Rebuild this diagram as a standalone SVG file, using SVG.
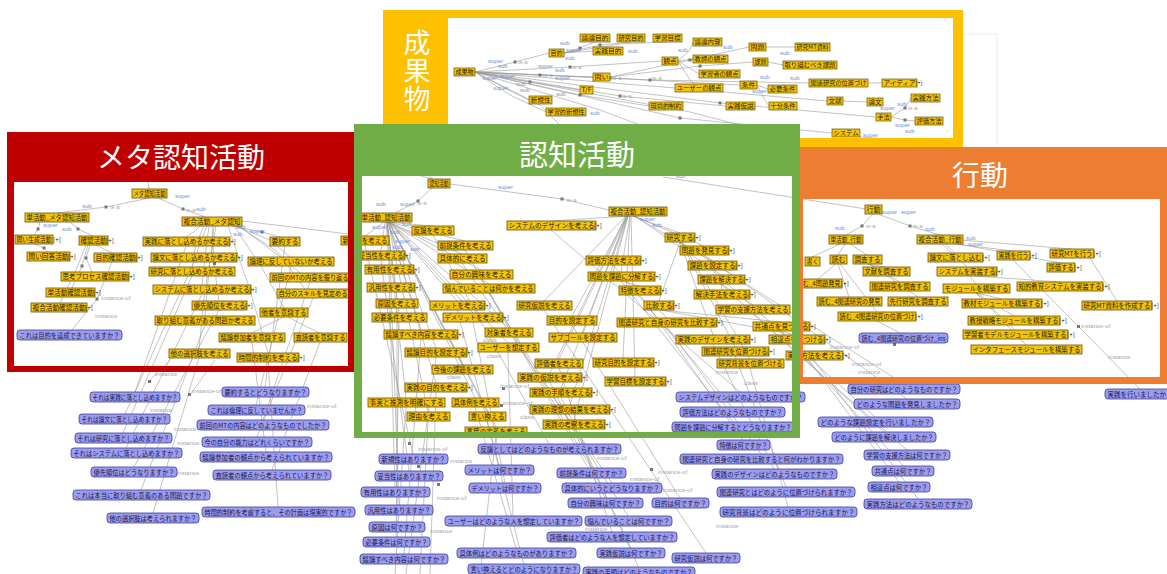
<svg xmlns="http://www.w3.org/2000/svg" width="1167" height="574" viewBox="0 0 1167 574">
<style>
.y rect{fill:#F2C40C;stroke:#6a5200;stroke-width:.8}
.q rect{fill:#9D9DF0;stroke:#3c3c94;stroke-width:.8}
.y text,.q text{font-family:"Noto Sans CJK JP","Noto Sans",sans-serif;font-size:6.3px;text-anchor:middle}
.y text{fill:#2a2000}
.q text{fill:#15154a}
.ty rect{fill:#F2C40C;stroke:#6a5200;stroke-width:.7}
.ty text{font-family:"Noto Sans CJK JP","Noto Sans",sans-serif;font-size:5.8px;fill:#2a2000;text-anchor:middle}
.e{fill:none;stroke:#9a9a9a;stroke-width:.6}
.sq{fill:#777}
.b{font-family:"Liberation Sans",sans-serif;font-size:6px;fill:#6f8fe0}
.g{font-family:"Liberation Sans",sans-serif;font-size:6px;fill:#a4a6b4}
.pm{font-family:"Liberation Sans",sans-serif;font-size:5px;fill:#333}
.tt{font-family:"Noto Sans CJK JP","Noto Sans",sans-serif;fill:#fff;text-anchor:middle}
</style>
<defs>
<clipPath id="cpTop"><rect x="448" y="18" width="505" height="120"/></clipPath>
</defs>
<rect width="1167" height="574" fill="#fff"/>

<!-- ===== world connectors ===== -->
<g id="connectors">
<path class="e" d="M149 198L106 207L57 213M158 198L183 209L205 217M149 189L147 176M40 222L38 229L34 235M70 222L78 229L93 236M34 244L44 248L48 252M96 245L104 249L112 253M90 245L86 258L92 272M88 245L82 266L72 288M86 245L76 270L60 303M112 262L97 299L72 330M200 226L195 231L186 237M204 226L198 240L194 253M207 226L199 246L192 267M209 226L205 256L202 285M212 226L214 264L219 301M214 226L209 270L205 316M216 226L205 290L199 349M232 226L262 232L280 237M236 226L270 240L290 257M238 226L275 250L300 273M239 226L282 258L305 289M234 226L262 268L284 308M284 317L265 326L252 333M288 317L305 326L320 333M228 226L250 290L268 353M242 221L300 228L348 234"/>
<path class="e" d="M186 246L135 392M194 262L125 414M192 276L123 433M202 294L126 448M219 310L134 467M205 325L141 490M199 358L153 513M285 246L265 387M291 266L256 405M310 282L263 420M313 298L257 437M252 342L266 452M320 342L272 470M268 362L278 507M170 360L150 380M215 360L190 395"/>
<path class="e" d="M400 170L450 184L562 199L609 210M433 179L420 168M432 188L418 201L395 213M663 177L866 209"/>
<path class="e" d="M386 222L433 226M384 222L365 236M388 222L465 241M385 222L381 251M388 222L462 254M386 222L389 265M389 222L481 270M387 222L391 283M389 222L489 284M387 222L397 299M389 222L457 301M387 222L399 313M389 222L473 313M388 222L421 330M390 222L509 328M390 222L508 343M388 222L436 348M389 222L462 365M388 222L436 383M387 222L406 398M389 222L475 398M388 222L428 412M389 222L487 412M389 222L496 427"/>
<path class="e" d="M630 216L551 221M632 216L680 233M634 216L704 246M634 216L712 261M628 216L613 256M630 216L621 272M635 216L721 275M626 216L544 301M627 216L572 316M627 216L583 333M627 216L559 359M626 216L550 373M627 216L561 388M628 216L570 405M628 216L574 420M630 216L623 358M631 216L635 377M721 284L722 290M721 284L753 305M680 242L659 301M680 242L713 335M681 242L735 347M682 242L750 359M659 310L667 318M660 310L781 322M661 310L797 335M621 281L640 286"/>
<path class="e" d="M433 235L549 444M365 245L413 454M381 260L409 471M389 274L395 487M391 292L399 505M397 308L397 522M399 322L396 537M421 339L404 554M457 310L499 465M473 322L505 483M465 250L591 468M462 263L612 483M481 279L605 498M489 293L628 516M508 352L513 516M559 368L612 532M475 407L516 548M487 421L524 565M550 382L631 548M544 310L706 553M572 325L680 498M561 397L639 568M640 295L743 440M667 327L761 454M713 344L774 469M735 356L786 487M750 368L788 507M551 230L740 392M613 265L732 407M621 281L733 422M436 357L406 574M436 392L430 574M406 407L395 574M428 421L420 574M496 436L480 574"/>
<path class="e" d="M680 242L904 384M704 255L907 399M712 270L875 417M721 284L884 432M753 314L907 450M781 331L903 466M797 344L899 482M814 360L918 499"/>
<path class="e" d="M873 214L862 226L846 235M878 214L910 226L940 235M840 244L812 257M845 244L838 255M850 244L867 255M836 264L818 279M838 264L849 297M840 264L877 312M867 264L886 267M869 264L900 282M870 264L918 297M945 244L955 253M955 244L1013 251M960 240L1072 249M958 244L1061 263M942 244L967 267M975 276L1060 282M970 276L976 284M976 293L1002 299M976 293L1014 316M976 293L1015 330M976 293L1026 345M1090 258L1117 301M877 321L900 333M1013 260L1140 389"/>
<path class="sq" d="M104.5 205.5h3v3h-3zM181.5 207.5h3v3h-3zM36.5 227.5h3v3h-3zM76.5 227.5h3v3h-3zM42.5 246.5h3v3h-3zM84.5 256.5h3v3h-3zM80.5 264.5h3v3h-3zM95.5 297.5h3v3h-3zM260.5 230.5h3v3h-3zM213 262h3v3h-3zM203.5 288.5h3v3h-3zM248.5 288.5h3v3h-3zM416.5 199.5h3v3h-3zM560.5 197.5h3v3h-3zM860.5 224.5h3v3h-3zM908.5 224.5h3v3h-3zM148 380h3v3h-3zM188 393h3v3h-3zM502 387h3v3h-3zM500 404h3v3h-3zM417 465h3v3h-3zM437 483h3v3h-3zM657 432h3v3h-3zM1077 325h3v3h-3zM893 343h3v3h-3zM408 442h3v3h-3zM650 468h3v3h-3z"/>
<g class="b">
<text x="175" y="198">super</text><text x="82" y="208">sub</text><text x="196" y="211">sub</text><text x="43" y="227">super</text><text x="236" y="229">sub</text><text x="250" y="233">super</text><text x="233" y="236">sub</text><text x="62" y="231">sub</text>
<text x="498" y="189">super</text><text x="400" y="206">super</text><text x="372" y="229">super</text><text x="390" y="234">sub</text><text x="402" y="226">sub</text><text x="392" y="249">sub</text><text x="395" y="243">super</text><text x="410" y="251">sub</text><text x="640" y="221">super</text><text x="652" y="227">sub</text><text x="676" y="178">sub</text><text x="376" y="206">sub</text>
<text x="882" y="214">super</text><text x="901" y="214">super</text><text x="925" y="231">sub</text><text x="835" y="230">sub</text><text x="968" y="246">super</text><text x="966" y="240">sub</text>
</g>
<g class="g">
<text x="110" y="209">is-a</text><text x="186" y="212">is-a</text><text x="101" y="300">instance-of</text><text x="95" y="318">instance</text><text x="417" y="205">is-a</text><text x="567" y="202">is-a</text><text x="866" y="228">is-a</text><text x="913" y="228">is-a</text>
<text x="155" y="376">instance</text><text x="192" y="393">instance-of</text><text x="150" y="412">instance</text><text x="174" y="431">instance</text><text x="177" y="445">instance</text><text x="177" y="475">instance</text><text x="307" y="408">instance-of</text>
<text x="487" y="358">class</text><text x="483" y="342">class</text><text x="500" y="388">instance-of</text><text x="503" y="405">instance-of</text><text x="520" y="419">class</text><text x="447" y="379">class</text><text x="716" y="374">instance</text><text x="744" y="385">class</text>
<text x="418" y="451">instance-of</text><text x="450" y="463">instance</text><text x="437" y="500">instance-of</text><text x="430" y="533">instance</text><text x="597" y="460">instance-of</text><text x="630" y="481">instance-of</text><text x="663" y="492">instance-of</text><text x="658" y="474">instance-of</text><text x="716" y="528">instance</text><text x="585" y="531">instance</text>
<text x="1081" y="328">instance-of</text><text x="1108" y="359">instance</text><text x="830" y="349">instance-of</text><text x="852" y="366">instance-of</text><text x="858" y="374">instance</text>
</g>
</g>

<!-- ===== red panel nodes ===== -->
<g id="r1" class="y"><rect x="132" y="189" width="35" height="9"/><text x="149.5" y="196" textLength="32" lengthAdjust="spacingAndGlyphs">メタ認知活動</text></g>
<g id="r2" class="y"><rect x="25" y="213" width="64" height="9"/><text x="57" y="220" textLength="61" lengthAdjust="spacingAndGlyphs">単活動_メタ認知活動</text></g>
<g id="r3" class="y"><rect x="182" y="217" width="60" height="9"/><text x="212" y="224" textLength="57" lengthAdjust="spacingAndGlyphs">複合活動_メタ認知</text></g>
<g id="r4" class="y"><rect x="15" y="235" width="38" height="9"/><text x="34" y="242" textLength="35" lengthAdjust="spacingAndGlyphs">問い生成活動</text><text class="pm" x="57" y="242">[+]</text></g>
<g id="r5" class="y"><rect x="79" y="236" width="29" height="9"/><text x="93.5" y="243" textLength="26" lengthAdjust="spacingAndGlyphs">確認活動</text><text class="pm" x="110" y="243">[+]</text></g>
<g id="r6" class="y"><rect x="143" y="237" width="87" height="9"/><text x="186.5" y="244" textLength="84" lengthAdjust="spacingAndGlyphs">実践に落とし込めるか考える</text><text class="pm" x="232" y="244">[+]</text></g>
<g id="r7" class="y"><rect x="270" y="237" width="30" height="9"/><text x="285" y="244" textLength="27" lengthAdjust="spacingAndGlyphs">要約する</text></g>
<g id="r8" class="y"><rect x="341" y="236" width="48" height="9"/><text x="365" y="243" textLength="45" lengthAdjust="spacingAndGlyphs">新規性を考える</text></g>
<g id="r9" class="y"><rect x="27" y="252" width="43" height="9"/><text x="48.5" y="259" textLength="40" lengthAdjust="spacingAndGlyphs">問い回答活動</text><text class="pm" x="72" y="259">[+]</text></g>
<g id="r10" class="y"><rect x="94" y="253" width="43" height="9"/><text x="115.5" y="260" textLength="40" lengthAdjust="spacingAndGlyphs">目的確認活動</text><text class="pm" x="139" y="260">[+]</text></g>
<g id="r11" class="y"><rect x="151" y="253" width="86" height="9"/><text x="194" y="260" textLength="83" lengthAdjust="spacingAndGlyphs">論文に落とし込めるか考える</text><text class="pm" x="239" y="260">[+]</text></g>
<g id="r12" class="y"><rect x="248" y="257" width="86" height="9"/><text x="291" y="264" textLength="83" lengthAdjust="spacingAndGlyphs">論理に反していないか考える</text></g>
<g id="r13" class="y"><rect x="149" y="267" width="86" height="9"/><text x="192" y="274" textLength="83" lengthAdjust="spacingAndGlyphs">研究に落とし込めるか考える</text></g>
<g id="r14" class="y"><rect x="61" y="272" width="68" height="9"/><text x="95" y="279" textLength="65" lengthAdjust="spacingAndGlyphs">思考プロセス確認活動</text><text class="pm" x="131" y="279">[+]</text></g>
<g id="r15" class="y"><rect x="270" y="273" width="80" height="9"/><text x="310" y="280" textLength="77" lengthAdjust="spacingAndGlyphs">前回のMTの内容を振り返る</text></g>
<g id="r16" class="y"><rect x="153" y="285" width="98" height="9"/><text x="202" y="292" textLength="95" lengthAdjust="spacingAndGlyphs">システムに落とし込めるか考える</text><text class="pm" x="253" y="292">[+]</text></g>
<g id="r17" class="y"><rect x="277" y="289" width="72" height="9"/><text x="313" y="296" textLength="69" lengthAdjust="spacingAndGlyphs">自分のスキルを見定める</text></g>
<g id="r18" class="y"><rect x="46" y="288" width="49" height="9"/><text x="70.5" y="295" textLength="46" lengthAdjust="spacingAndGlyphs">単活動確認活動</text><text class="pm" x="97" y="295">[+]</text></g>
<g id="r19" class="y"><rect x="31" y="303" width="56" height="9"/><text x="59" y="310" textLength="53" lengthAdjust="spacingAndGlyphs">複合活動確認活動</text><text class="pm" x="89" y="310">[+]</text></g>
<g id="r20" class="y"><rect x="192" y="301" width="55" height="9"/><text x="219.5" y="308" textLength="52" lengthAdjust="spacingAndGlyphs">優先順位を考える</text><text class="pm" x="249" y="308">[+]</text></g>
<g id="r21" class="y"><rect x="260" y="308" width="48" height="9"/><text x="284" y="315" textLength="45" lengthAdjust="spacingAndGlyphs">他者を意識する</text></g>
<g id="r22" class="y"><rect x="155" y="316" width="100" height="9"/><text x="205" y="323" textLength="97" lengthAdjust="spacingAndGlyphs">取り組む意義がある問題か考える</text></g>
<g id="r23" class="q"><rect x="17" y="330" width="105" height="10" rx="3"/><text x="69.5" y="337.5" textLength="100" lengthAdjust="spacingAndGlyphs">これは目的を達成できていますか？</text></g>
<g id="r24" class="y"><rect x="219" y="333" width="66" height="9"/><text x="252" y="340" textLength="63" lengthAdjust="spacingAndGlyphs">議論参加者を意識する</text></g>
<g id="r25" class="y"><rect x="294" y="333" width="53" height="9"/><text x="320.5" y="340" textLength="50" lengthAdjust="spacingAndGlyphs">査読者を意識する</text></g>
<g id="r26" class="y"><rect x="169" y="349" width="61" height="9"/><text x="199.5" y="356" textLength="58" lengthAdjust="spacingAndGlyphs">他の選択肢を考える</text></g>
<g id="r27" class="y"><rect x="237" y="353" width="62" height="9"/><text x="268" y="360" textLength="59" lengthAdjust="spacingAndGlyphs">時間的制約を考える</text><text class="pm" x="301" y="360">[+]</text></g>

<!-- questions below red panel -->
<g id="o1" class="q"><rect x="90" y="392" width="90" height="10" rx="3"/><text x="135" y="399.5" textLength="85" lengthAdjust="spacingAndGlyphs">それは実践に落とし込めますか？</text></g>
<g id="o2" class="q"><rect x="222" y="387" width="87" height="10" rx="3"/><text x="265.5" y="394.5" textLength="82" lengthAdjust="spacingAndGlyphs">要約するとどうなりますか？</text></g>
<g id="o3" class="q"><rect x="208" y="405" width="97" height="10" rx="3"/><text x="256.5" y="412.5" textLength="92" lengthAdjust="spacingAndGlyphs">これは倫理に反していませんか？</text></g>
<g id="o4" class="q"><rect x="79" y="414" width="91" height="10" rx="3"/><text x="124.5" y="421.5" textLength="86" lengthAdjust="spacingAndGlyphs">それは論文に落とし込めますか？</text></g>
<g id="o5" class="q"><rect x="197" y="420" width="132" height="10" rx="3"/><text x="263" y="427.5" textLength="127" lengthAdjust="spacingAndGlyphs">前回のMTの内容はどのようなものでしたか？</text></g>
<g id="o6" class="q"><rect x="75" y="433" width="97" height="10" rx="3"/><text x="123.5" y="440.5" textLength="92" lengthAdjust="spacingAndGlyphs">それは研究に落とし込めますか？</text></g>
<g id="o7" class="q"><rect x="202" y="437" width="110" height="10" rx="3"/><text x="257" y="444.5" textLength="105" lengthAdjust="spacingAndGlyphs">今の自分の能力はどれくらいですか？</text></g>
<g id="o8" class="q"><rect x="71" y="448" width="111" height="10" rx="3"/><text x="126.5" y="455.5" textLength="106" lengthAdjust="spacingAndGlyphs">それはシステムに落とし込めますか？</text></g>
<g id="o9" class="q"><rect x="200" y="452" width="132" height="10" rx="3"/><text x="266" y="459.5" textLength="127" lengthAdjust="spacingAndGlyphs">議論参加者の観点から考えられていますか？</text></g>
<g id="o10" class="q"><rect x="91" y="467" width="86" height="10" rx="3"/><text x="134" y="474.5" textLength="81" lengthAdjust="spacingAndGlyphs">優先順位はどうなりますか？</text></g>
<g id="o11" class="q"><rect x="213" y="470" width="118" height="10" rx="3"/><text x="272" y="477.5" textLength="113" lengthAdjust="spacingAndGlyphs">査読者の観点から考えられていますか？</text></g>
<g id="o12" class="q"><rect x="73" y="490" width="137" height="10" rx="3"/><text x="141.5" y="497.5" textLength="132" lengthAdjust="spacingAndGlyphs">これは本当に取り組む意義のある問題ですか？</text></g>
<g id="o13" class="q"><rect x="202" y="507" width="153" height="10" rx="3"/><text x="278.5" y="514.5" textLength="148" lengthAdjust="spacingAndGlyphs">時間的制約を考慮すると、その計画は現実的ですか？</text></g>
<g id="o14" class="q"><rect x="107" y="513" width="92" height="10" rx="3"/><text x="153" y="520.5" textLength="87" lengthAdjust="spacingAndGlyphs">他の選択肢は考えられますか？</text></g>

<!-- ===== green panel nodes ===== -->
<g id="g1" class="y"><rect x="428" y="179" width="22" height="9"/><text x="439" y="186" textLength="19" lengthAdjust="spacingAndGlyphs">認知活動</text></g>
<g id="g2" class="y"><rect x="360" y="213" width="52" height="9"/><text x="386" y="220" textLength="49" lengthAdjust="spacingAndGlyphs">単活動_認知活動</text></g>
<g id="g3" class="y"><rect x="412" y="226" width="42" height="9"/><text x="433" y="233" textLength="39" lengthAdjust="spacingAndGlyphs">反論を考える</text></g>
<g id="g5" class="y"><rect x="438" y="241" width="55" height="9"/><text x="465.5" y="248" textLength="52" lengthAdjust="spacingAndGlyphs">前提条件を考える</text></g>
<g id="g6" class="y"><rect x="357" y="251" width="48" height="9"/><text x="381" y="258" textLength="45" lengthAdjust="spacingAndGlyphs">妥当性を考える</text><text class="pm" x="407" y="258">[+]</text></g>
<g id="g7" class="y"><rect x="438" y="254" width="49" height="9"/><text x="462.5" y="261" textLength="46" lengthAdjust="spacingAndGlyphs">具体的に考える</text></g>
<g id="g8" class="y"><rect x="365" y="265" width="49" height="9"/><text x="389.5" y="272" textLength="46" lengthAdjust="spacingAndGlyphs">有用性を考える</text><text class="pm" x="416" y="272">[+]</text></g>
<g id="g9" class="y"><rect x="450" y="270" width="63" height="9"/><text x="481.5" y="277" textLength="60" lengthAdjust="spacingAndGlyphs">自分の興味を考える</text></g>
<g id="g10" class="y"><rect x="507" y="221" width="89" height="9"/><text x="551.5" y="228" textLength="86" lengthAdjust="spacingAndGlyphs">システムのデザインを考える</text><text class="pm" x="598" y="228">[+]</text></g>
<g id="g11" class="y"><rect x="609" y="207" width="58" height="9"/><text x="638" y="214" textLength="55" lengthAdjust="spacingAndGlyphs">複合活動_認知活動</text></g>
<g id="g12" class="y"><rect x="665" y="233" width="30" height="9"/><text x="680" y="240" textLength="27" lengthAdjust="spacingAndGlyphs">研究する</text><text class="pm" x="697" y="240">[+]</text></g>
<g id="g13" class="y"><rect x="680" y="246" width="49" height="9"/><text x="704.5" y="253" textLength="46" lengthAdjust="spacingAndGlyphs">問題を発見する</text><text class="pm" x="731" y="253">[+]</text></g>
<g id="g14" class="y"><rect x="688" y="261" width="49" height="9"/><text x="712.5" y="268" textLength="46" lengthAdjust="spacingAndGlyphs">課題を設定する</text><text class="pm" x="739" y="268">[+]</text></g>
<g id="g15" class="y"><rect x="586" y="256" width="55" height="9"/><text x="613.5" y="263" textLength="52" lengthAdjust="spacingAndGlyphs">評価方法を考える</text><text class="pm" x="643" y="263">[+]</text></g>
<g id="g16" class="y"><rect x="588" y="272" width="67" height="9"/><text x="621.5" y="279" textLength="64" lengthAdjust="spacingAndGlyphs">問題を課題に分解する</text><text class="pm" x="657" y="279">[+]</text></g>
<g id="g17" class="y"><rect x="698" y="275" width="47" height="9"/><text x="721.5" y="282" textLength="44" lengthAdjust="spacingAndGlyphs">課題を解決する</text><text class="pm" x="747" y="282">[+]</text></g>
<g id="g18" class="y"><rect x="367" y="283" width="48" height="9"/><text x="391" y="290" textLength="45" lengthAdjust="spacingAndGlyphs">汎用性を考える</text><text class="pm" x="417" y="290">[+]</text></g>
<g id="g19" class="y"><rect x="443" y="284" width="92" height="9"/><text x="489" y="291" textLength="89" lengthAdjust="spacingAndGlyphs">悩んでいることは何かを考える</text></g>
<g id="g20" class="y"><rect x="376" y="299" width="42" height="9"/><text x="397" y="306" textLength="39" lengthAdjust="spacingAndGlyphs">原因を考える</text></g>
<g id="g21" class="y"><rect x="430" y="301" width="55" height="9"/><text x="457.5" y="308" textLength="52" lengthAdjust="spacingAndGlyphs">メリットを考える</text><text class="pm" x="487" y="308">[+]</text></g>
<g id="g22" class="y"><rect x="517" y="301" width="55" height="9"/><text x="544.5" y="308" textLength="52" lengthAdjust="spacingAndGlyphs">研究仮説を考える</text></g>
<g id="g23" class="y"><rect x="619" y="286" width="42" height="9"/><text x="640" y="293" textLength="39" lengthAdjust="spacingAndGlyphs">特徴を考える</text><text class="pm" x="663" y="293">[+]</text></g>
<g id="g24" class="y"><rect x="694" y="290" width="56" height="9"/><text x="722" y="297" textLength="53" lengthAdjust="spacingAndGlyphs">解決手法を考える</text><text class="pm" x="752" y="297">[+]</text></g>
<g id="g25" class="y"><rect x="644" y="301" width="30" height="9"/><text x="659" y="308" textLength="27" lengthAdjust="spacingAndGlyphs">比較する</text><text class="pm" x="676" y="308">[+]</text></g>
<g id="g26" class="y"><rect x="716" y="305" width="74" height="9"/><text x="753" y="312" textLength="71" lengthAdjust="spacingAndGlyphs">学習の支援方法を考える</text></g>
<g id="g27" class="y"><rect x="372" y="313" width="55" height="9"/><text x="399.5" y="320" textLength="52" lengthAdjust="spacingAndGlyphs">必要条件を考える</text></g>
<g id="g28" class="y"><rect x="443" y="313" width="60" height="9"/><text x="473" y="320" textLength="57" lengthAdjust="spacingAndGlyphs">デメリットを考える</text><text class="pm" x="505" y="320">[+]</text></g>
<g id="g29" class="y"><rect x="547" y="316" width="50" height="9"/><text x="572" y="323" textLength="47" lengthAdjust="spacingAndGlyphs">目的を設定する</text></g>
<g id="g30" class="y"><rect x="617" y="318" width="100" height="9"/><text x="667" y="325" textLength="97" lengthAdjust="spacingAndGlyphs">関連研究と自身の研究を比較する</text><text class="pm" x="719" y="325">[+]</text></g>
<g id="g31" class="y"><rect x="753" y="322" width="57" height="9"/><text x="781.5" y="329" textLength="54" lengthAdjust="spacingAndGlyphs">共通点を見つける</text><text class="pm" x="812" y="329">[+]</text></g>
<g id="g32" class="y"><rect x="384" y="330" width="74" height="9"/><text x="421" y="337" textLength="71" lengthAdjust="spacingAndGlyphs">議論すべき内容を考える</text><text class="pm" x="460" y="337">[+]</text></g>
<g id="g33" class="y"><rect x="485" y="328" width="48" height="9"/><text x="509" y="335" textLength="45" lengthAdjust="spacingAndGlyphs">対象者を考える</text></g>
<g id="g34" class="y"><rect x="549" y="333" width="68" height="9"/><text x="583" y="340" textLength="65" lengthAdjust="spacingAndGlyphs">サブゴールを設定する</text></g>
<g id="g35" class="y"><rect x="676" y="335" width="74" height="9"/><text x="713" y="342" textLength="71" lengthAdjust="spacingAndGlyphs">実践のデザインを考える</text><text class="pm" x="752" y="342">[+]</text></g>
<g id="g36" class="y"><rect x="769" y="335" width="56" height="9"/><text x="797" y="342" textLength="53" lengthAdjust="spacingAndGlyphs">相違点を見つける</text><text class="pm" x="827" y="342">[+]</text></g>
<g id="g37" class="y"><rect x="478" y="343" width="61" height="9"/><text x="508.5" y="350" textLength="58" lengthAdjust="spacingAndGlyphs">ユーザーを想定する</text></g>
<g id="g38" class="y"><rect x="702" y="347" width="67" height="9"/><text x="735.5" y="354" textLength="64" lengthAdjust="spacingAndGlyphs">関連研究を位置づける</text><text class="pm" x="771" y="354">[+]</text></g>
<g id="g39" class="y"><rect x="405" y="348" width="62" height="9"/><text x="436" y="355" textLength="59" lengthAdjust="spacingAndGlyphs">議論目的を設定する</text><text class="pm" x="469" y="355">[+]</text></g>
<g id="g40" class="y"><rect x="593" y="358" width="61" height="9"/><text x="623.5" y="365" textLength="58" lengthAdjust="spacingAndGlyphs">研究目的を設定する</text><text class="pm" x="656" y="365">[+]</text></g>
<g id="g41" class="y"><rect x="717" y="359" width="67" height="9"/><text x="750.5" y="366" textLength="64" lengthAdjust="spacingAndGlyphs">研究背景を位置づける</text></g>
<g id="g42" class="y"><rect x="535" y="359" width="48" height="9"/><text x="559" y="366" textLength="45" lengthAdjust="spacingAndGlyphs">評価者を考える</text></g>
<g id="g43" class="y"><rect x="432" y="365" width="61" height="9"/><text x="462.5" y="372" textLength="58" lengthAdjust="spacingAndGlyphs">今後の課題を考える</text></g>
<g id="g44" class="y"><rect x="518" y="373" width="64" height="9"/><text x="550" y="380" textLength="61" lengthAdjust="spacingAndGlyphs">実践の仮説を考える</text><text class="pm" x="584" y="380">[+]</text></g>
<g id="g45" class="y"><rect x="605" y="377" width="61" height="9"/><text x="635.5" y="384" textLength="58" lengthAdjust="spacingAndGlyphs">学習目標を設定する</text><text class="pm" x="668" y="384">[+]</text></g>
<g id="g46" class="y"><rect x="405" y="383" width="62" height="9"/><text x="436" y="390" textLength="59" lengthAdjust="spacingAndGlyphs">実践の目的を考える</text><text class="pm" x="469" y="390">[+]</text></g>
<g id="g47" class="y"><rect x="530" y="388" width="62" height="9"/><text x="561" y="395" textLength="59" lengthAdjust="spacingAndGlyphs">実践の手順を考える</text><text class="pm" x="594" y="395">[+]</text></g>
<g id="g48" class="q"><rect x="676" y="392" width="129" height="10" rx="3"/><text x="740.5" y="399.5" textLength="124" lengthAdjust="spacingAndGlyphs">システムデザインはどのようなものですか？</text></g>
<g id="g49" class="y"><rect x="368" y="398" width="77" height="9"/><text x="406.5" y="405" textLength="74" lengthAdjust="spacingAndGlyphs">事実と推測を明確にする</text></g>
<g id="g50" class="y"><rect x="452" y="398" width="47" height="9"/><text x="475.5" y="405" textLength="44" lengthAdjust="spacingAndGlyphs">具体例を考える</text></g>
<g id="g51" class="y"><rect x="530" y="405" width="80" height="9"/><text x="570" y="412" textLength="77" lengthAdjust="spacingAndGlyphs">実践の理想の結果を考える</text><text class="pm" x="612" y="412">[+]</text></g>
<g id="g52" class="q"><rect x="680" y="407" width="105" height="10" rx="3"/><text x="732.5" y="414.5" textLength="100" lengthAdjust="spacingAndGlyphs">評価方法はどのようなものですか？</text></g>
<g id="g53" class="y"><rect x="407" y="412" width="43" height="9"/><text x="428.5" y="419" textLength="40" lengthAdjust="spacingAndGlyphs">理由を考える</text></g>
<g id="g54" class="y"><rect x="469" y="412" width="37" height="9"/><text x="487.5" y="419" textLength="34" lengthAdjust="spacingAndGlyphs">言い換える</text></g>
<g id="g55" class="y"><rect x="543" y="420" width="62" height="9"/><text x="574" y="427" textLength="59" lengthAdjust="spacingAndGlyphs">実践の考察を考える</text><text class="pm" x="607" y="427">[+]</text></g>
<g id="g56" class="q"><rect x="672" y="422" width="122" height="10" rx="3"/><text x="733" y="429.5" textLength="117" lengthAdjust="spacingAndGlyphs">問題を課題に分解するとどうなりますか？</text></g>
<g id="g57" class="y"><rect x="465" y="427" width="62" height="9"/><text x="496" y="434" textLength="59" lengthAdjust="spacingAndGlyphs">言葉の定義を考える</text></g>
<g id="g58" class="y"><rect x="786" y="351" width="57" height="9"/><text x="814.5" y="358" textLength="54" lengthAdjust="spacingAndGlyphs">実践方法を考える</text><text class="pm" x="846" y="358">[+]</text></g>

<!-- questions below green panel -->
<g id="p1" class="q"><rect x="478" y="444" width="143" height="10" rx="3"/><text x="549.5" y="451.5" textLength="138" lengthAdjust="spacingAndGlyphs">反論としてはどのようなものが考えられますか？</text></g>
<g id="p2" class="q"><rect x="717" y="440" width="53" height="10" rx="3"/><text x="743.5" y="447.5" textLength="48" lengthAdjust="spacingAndGlyphs">特徴は何ですか？</text></g>
<g id="p3" class="q"><rect x="680" y="454" width="163" height="10" rx="3"/><text x="761.5" y="461.5" textLength="158" lengthAdjust="spacingAndGlyphs">関連研究と自身の研究を比較すると何がわかりますか？</text></g>
<g id="p4" class="q"><rect x="379" y="454" width="69" height="10" rx="3"/><text x="413.5" y="461.5" textLength="64" lengthAdjust="spacingAndGlyphs">新規性はありますか？</text></g>
<g id="p5" class="q"><rect x="465" y="465" width="69" height="10" rx="3"/><text x="499.5" y="472.5" textLength="64" lengthAdjust="spacingAndGlyphs">メリットは何ですか？</text></g>
<g id="p6" class="q"><rect x="557" y="468" width="69" height="10" rx="3"/><text x="591.5" y="475.5" textLength="64" lengthAdjust="spacingAndGlyphs">前提条件は何ですか？</text></g>
<g id="p7" class="q"><rect x="712" y="469" width="125" height="10" rx="3"/><text x="774.5" y="476.5" textLength="120" lengthAdjust="spacingAndGlyphs">実践のデザインはどのようなものですか？</text></g>
<g id="p8" class="q"><rect x="375" y="471" width="68" height="10" rx="3"/><text x="409" y="478.5" textLength="63" lengthAdjust="spacingAndGlyphs">妥当性はありますか？</text></g>
<g id="p9" class="q"><rect x="469" y="483" width="72" height="10" rx="3"/><text x="505" y="490.5" textLength="67" lengthAdjust="spacingAndGlyphs">デメリットは何ですか？</text></g>
<g id="p10" class="q"><rect x="562" y="483" width="100" height="10" rx="3"/><text x="612" y="490.5" textLength="95" lengthAdjust="spacingAndGlyphs">具体的にいうとどうなりますか？</text></g>
<g id="p11" class="q"><rect x="361" y="487" width="69" height="10" rx="3"/><text x="395.5" y="494.5" textLength="64" lengthAdjust="spacingAndGlyphs">有用性はありますか？</text></g>
<g id="p12" class="q"><rect x="717" y="487" width="138" height="10" rx="3"/><text x="786" y="494.5" textLength="133" lengthAdjust="spacingAndGlyphs">関連研究とはどのように位置づけられますか？</text></g>
<g id="p13" class="q"><rect x="568" y="498" width="75" height="10" rx="3"/><text x="605.5" y="505.5" textLength="70" lengthAdjust="spacingAndGlyphs">自分の興味は何ですか？</text></g>
<g id="p14" class="q"><rect x="652" y="498" width="57" height="10" rx="3"/><text x="680.5" y="505.5" textLength="52" lengthAdjust="spacingAndGlyphs">目的は何ですか？</text></g>
<g id="p15" class="q"><rect x="365" y="505" width="68" height="10" rx="3"/><text x="399" y="512.5" textLength="63" lengthAdjust="spacingAndGlyphs">汎用性はありますか？</text></g>
<g id="p16" class="q"><rect x="720" y="507" width="137" height="10" rx="3"/><text x="788.5" y="514.5" textLength="132" lengthAdjust="spacingAndGlyphs">研究背景はどのように位置づけられますか？</text></g>
<g id="p17" class="q"><rect x="445" y="516" width="137" height="10" rx="3"/><text x="513.5" y="523.5" textLength="132" lengthAdjust="spacingAndGlyphs">ユーザーはどのような人を想定していますか？</text></g>
<g id="p18" class="q"><rect x="585" y="516" width="87" height="10" rx="3"/><text x="628.5" y="523.5" textLength="82" lengthAdjust="spacingAndGlyphs">悩んでいることは何ですか？</text></g>
<g id="p19" class="q"><rect x="369" y="522" width="56" height="10" rx="3"/><text x="397" y="529.5" textLength="51" lengthAdjust="spacingAndGlyphs">原因は何ですか？</text></g>
<g id="p20" class="q"><rect x="547" y="532" width="130" height="10" rx="3"/><text x="612" y="539.5" textLength="125" lengthAdjust="spacingAndGlyphs">評価者はどのような人を想定していますか？</text></g>
<g id="p21" class="q"><rect x="363" y="537" width="67" height="10" rx="3"/><text x="396.5" y="544.5" textLength="62" lengthAdjust="spacingAndGlyphs">必要条件は何ですか？</text></g>
<g id="p22" class="q"><rect x="457" y="548" width="119" height="10" rx="3"/><text x="516.5" y="555.5" textLength="114" lengthAdjust="spacingAndGlyphs">具体例はどのようなものがありますか？</text></g>
<g id="p23" class="q"><rect x="597" y="548" width="68" height="10" rx="3"/><text x="631" y="555.5" textLength="63" lengthAdjust="spacingAndGlyphs">実践仮説は何ですか？</text></g>
<g id="p24" class="q"><rect x="672" y="553" width="68" height="10" rx="3"/><text x="706" y="560.5" textLength="63" lengthAdjust="spacingAndGlyphs">研究仮説は何ですか？</text></g>
<g id="p25" class="q"><rect x="360" y="554" width="88" height="10" rx="3"/><text x="404" y="561.5" textLength="83" lengthAdjust="spacingAndGlyphs">議論すべき内容は何ですか？</text></g>
<g id="p26" class="q"><rect x="468" y="564" width="112" height="10" rx="3"/><text x="524" y="571.5" textLength="107" lengthAdjust="spacingAndGlyphs">言い換えるとどのようになりますか？</text></g>
<g id="p27" class="q"><rect x="583" y="567" width="112" height="10" rx="3"/><text x="639" y="574.5" textLength="107" lengthAdjust="spacingAndGlyphs">実践の手順はどのようなものですか？</text></g>

<!-- ===== orange panel nodes ===== -->
<g id="a1" class="y"><rect x="865" y="205" width="17" height="9"/><text x="873.5" y="212" textLength="14" lengthAdjust="spacingAndGlyphs">行動</text></g>
<g id="a2" class="y"><rect x="829" y="235" width="34" height="9"/><text x="846" y="242" textLength="31" lengthAdjust="spacingAndGlyphs">単活動_行動</text></g>
<g id="a3" class="y"><rect x="917" y="235" width="46" height="9"/><text x="940" y="242" textLength="43" lengthAdjust="spacingAndGlyphs">複合活動_行動</text></g>
<g id="a4" class="y"><rect x="805" y="257" width="15" height="9"/><text x="812.5" y="264" textLength="12" lengthAdjust="spacingAndGlyphs">書く</text></g>
<g id="a5" class="y"><rect x="830" y="255" width="17" height="9"/><text x="838.5" y="262" textLength="14" lengthAdjust="spacingAndGlyphs">読む</text></g>
<g id="a6" class="y"><rect x="853" y="255" width="29" height="9"/><text x="867.5" y="262" textLength="26" lengthAdjust="spacingAndGlyphs">調査する</text></g>
<g id="a7" class="y"><rect x="928" y="253" width="55" height="9"/><text x="955.5" y="260" textLength="52" lengthAdjust="spacingAndGlyphs">論文に落とし込む</text><text class="pm" x="986" y="260">[+]</text></g>
<g id="a8" class="y"><rect x="997" y="251" width="33" height="9"/><text x="1013.5" y="258" textLength="30" lengthAdjust="spacingAndGlyphs">実践を行う</text><text class="pm" x="1033" y="258">[+]</text></g>
<g id="a9" class="y"><rect x="1050" y="249" width="44" height="9"/><text x="1072" y="256" textLength="41" lengthAdjust="spacingAndGlyphs">研究MTを行う</text><text class="pm" x="1097" y="256">[+]</text></g>
<g id="a10" class="y"><rect x="1047" y="263" width="28" height="9"/><text x="1061" y="270" textLength="25" lengthAdjust="spacingAndGlyphs">評価する</text><text class="pm" x="1078" y="270">[+]</text></g>
<g id="a11" class="y"><rect x="863" y="267" width="47" height="9"/><text x="886.5" y="274" textLength="44" lengthAdjust="spacingAndGlyphs">文献を調査する</text></g>
<g id="a12" class="y"><rect x="937" y="267" width="60" height="9"/><text x="967" y="274" textLength="57" lengthAdjust="spacingAndGlyphs">システムを実装する</text><text class="pm" x="999" y="274">[+]</text></g>
<g id="a13" class="y"><rect x="795" y="279" width="47" height="9"/><text x="818.5" y="286" textLength="44" lengthAdjust="spacingAndGlyphs">読む_4問題発見</text><text class="pm" x="845" y="286">[+]</text></g>
<g id="a14" class="y"><rect x="870" y="282" width="60" height="9"/><text x="900" y="289" textLength="57" lengthAdjust="spacingAndGlyphs">関連研究を調査する</text></g>
<g id="a15" class="y"><rect x="1017" y="282" width="86" height="9"/><text x="1060" y="289" textLength="83" lengthAdjust="spacingAndGlyphs">知的教育システムを実装する</text><text class="pm" x="1106" y="289">[+]</text></g>
<g id="a16" class="y"><rect x="943" y="284" width="67" height="9"/><text x="976.5" y="291" textLength="64" lengthAdjust="spacingAndGlyphs">モジュールを構築する</text></g>
<g id="a17" class="y"><rect x="817" y="297" width="65" height="9"/><text x="849.5" y="304" textLength="62" lengthAdjust="spacingAndGlyphs">読む_4関連研究の発見</text></g>
<g id="a18" class="y"><rect x="888" y="297" width="60" height="9"/><text x="918" y="304" textLength="57" lengthAdjust="spacingAndGlyphs">先行研究を調査する</text></g>
<g id="a19" class="y"><rect x="962" y="299" width="80" height="9"/><text x="1002" y="306" textLength="77" lengthAdjust="spacingAndGlyphs">教材モジュールを構築する</text><text class="pm" x="1045" y="306">[+]</text></g>
<g id="a20" class="y"><rect x="1082" y="301" width="70" height="9"/><text x="1117" y="308" textLength="67" lengthAdjust="spacingAndGlyphs">研究MT資料を作成する</text><text class="pm" x="1155" y="308">[+]</text></g>
<g id="a21" class="y"><rect x="838" y="312" width="78" height="9"/><text x="877" y="319" textLength="75" lengthAdjust="spacingAndGlyphs">読む_4関連研究の位置づけ</text><text class="pm" x="919" y="319">[+]</text></g>
<g id="a22" class="y"><rect x="968" y="316" width="92" height="9"/><text x="1014" y="323" textLength="89" lengthAdjust="spacingAndGlyphs">教授戦略モジュールを構築する</text><text class="pm" x="1063" y="323">[+]</text></g>
<g id="a23" class="q"><rect x="859" y="333" width="89" height="10" rx="3"/><text x="903.5" y="340.5" textLength="84" lengthAdjust="spacingAndGlyphs">読む_4関連研究の位置づけ_ins</text></g>
<g id="a24" class="y"><rect x="963" y="330" width="105" height="9"/><text x="1015.5" y="337" textLength="102" lengthAdjust="spacingAndGlyphs">学習者モデルモジュールを構築する</text><text class="pm" x="1071" y="337">[+]</text></g>
<g id="a25" class="y"><rect x="971" y="345" width="111" height="9"/><text x="1026.5" y="352" textLength="108" lengthAdjust="spacingAndGlyphs">インタフェースモジュールを構築する</text></g>

<!-- questions below orange panel -->
<g id="b1" class="q"><rect x="848" y="384" width="112" height="10" rx="3"/><text x="904" y="391.5" textLength="107" lengthAdjust="spacingAndGlyphs">自分の研究はどのようなものですか？</text></g>
<g id="b2" class="q"><rect x="854" y="399" width="106" height="10" rx="3"/><text x="907" y="406.5" textLength="101" lengthAdjust="spacingAndGlyphs">どのような問題を発見しましたか？</text></g>
<g id="b3" class="q"><rect x="1105" y="389" width="70" height="10" rx="3"/><text x="1140" y="396.5" textLength="65" lengthAdjust="spacingAndGlyphs">実践を行いましたか？</text></g>
<g id="b4" class="q"><rect x="818" y="417" width="115" height="10" rx="3"/><text x="875.5" y="424.5" textLength="110" lengthAdjust="spacingAndGlyphs">どのような課題設定を行いましたか？</text></g>
<g id="b5" class="q"><rect x="832" y="432" width="104" height="10" rx="3"/><text x="884" y="439.5" textLength="99" lengthAdjust="spacingAndGlyphs">どのように課題を解決しましたか？</text></g>
<g id="b6" class="q"><rect x="864" y="450" width="86" height="10" rx="3"/><text x="907" y="457.5" textLength="81" lengthAdjust="spacingAndGlyphs">学習の支援方法は何ですか？</text></g>
<g id="b7" class="q"><rect x="872" y="466" width="62" height="10" rx="3"/><text x="903" y="473.5" textLength="57" lengthAdjust="spacingAndGlyphs">共通点は何ですか？</text></g>
<g id="b8" class="q"><rect x="868" y="482" width="62" height="10" rx="3"/><text x="899" y="489.5" textLength="57" lengthAdjust="spacingAndGlyphs">相違点は何ですか？</text></g>
<g id="b9" class="q"><rect x="864" y="499" width="108" height="10" rx="3"/><text x="918" y="506.5" textLength="103" lengthAdjust="spacingAndGlyphs">実践方法はどのようなものですか？</text></g>

<!-- ===== frames ===== -->
<g id="frame-meta">
<path fill="#C00000" fill-rule="evenodd" d="M7 132H357V372H7ZM14 182V366H348V182Z"/>
<text class="tt" x="181" y="168" font-size="28">メタ認知活動</text>
</g>
<g id="frame-action">
<path fill="#ED7D31" fill-rule="evenodd" d="M797 147H1167V384H797ZM803 199V377H1160V199Z"/>
<text class="tt" x="980" y="186" font-size="28">行動</text>
</g>
<g id="panel-output">
<path d="M963 34H997V145" fill="none" stroke="#ececec" stroke-width="1"/>
<rect x="383" y="10" width="580" height="137" fill="#FFC000"/>
<rect x="448" y="18" width="505" height="120" fill="#fff"/>
<text class="tt" x="417" y="71" font-size="27" letter-spacing="1" style="writing-mode:vertical-rl">成果物</text>
<g clip-path="url(#cpTop)">
<g id="connectors-output">
<path class="e" d="M475 72L515 62L549 53M475 72L540 75L593 77M475 72L530 82L580 90M475 72L505 88L529 100M475 72L510 95L546 112M475 72L570 67L662 61M475 72L610 78L740 85M475 72L580 95L649 106M475 72L620 96L726 106M475 72L700 90L827 101M475 72L720 103L876 117M475 72L680 118L832 133M475 72L650 80L809 83M475 72L540 105L560 125M475 72L600 110L640 125M475 72L690 112L740 125M564 53L580 48L595 42M564 53L600 45L631 42M564 53L620 44L667 42M564 53L593 51M678 61L693 59M678 61L690 50L693 42M678 61L699 74M678 61L690 80L699 88M610 77L690 60L749 47M610 77L700 66L753 62M766 47L795 47M768 62L783 65M757 85L768 89M757 85L765 100L769 106M868 83L882 83M843 101L867 102M891 117L905 108L911 98M891 117L905 120L915 121M860 137L900 140"/>
<path class="sq" d="M513.5 60.5h3v3h-3zM538.5 73.5h3v3h-3zM528.5 80.5h3v3h-3zM568.5 65.5h3v3h-3zM608.5 76.5h3v3h-3zM578.5 93.5h3v3h-3zM618.5 94.5h3v3h-3zM698.5 88.5h3v3h-3zM718.5 101.5h3v3h-3zM678.5 116.5h3v3h-3zM648.5 78.5h3v3h-3zM578.5 46.5h3v3h-3zM598.5 43.5h3v3h-3zM688.5 58.5h3v3h-3zM698.5 64.5h3v3h-3zM903.5 106.5h3v3h-3zM903.5 118.5h3v3h-3z"/>
<g class="b" font-size="5.5">
<text x="488" y="63">super</text><text x="498" y="68">sub</text><text x="482" y="80">super</text><text x="500" y="78">super</text><text x="516" y="86">sub</text><text x="493" y="90">super</text><text x="520" y="92">sub</text><text x="538" y="68">super</text><text x="555" y="72">sub</text><text x="565" y="60">sub</text><text x="560" y="45">sub</text><text x="566" y="52">super</text><text x="556" y="96">sub</text><text x="555" y="80">super</text><text x="628" y="53">sub</text><text x="678" y="52">sub</text><text x="723" y="49">sub</text><text x="780" y="55">sub</text><text x="760" y="79">sub</text><text x="752" y="93">super</text><text x="790" y="80">sub</text><text x="880" y="110">super</text><text x="897" y="106">sub</text><text x="895" y="127">super</text><text x="905" y="133">sub</text><text x="863" y="137">super</text><text x="590" y="115">sub</text>
</g>
<g class="g" font-size="5">
<text x="518" y="64">is-a</text><text x="543" y="77">is-a</text><text x="572" y="69">is-a</text><text x="612" y="80">is-a</text><text x="622" y="98">is-a</text><text x="652" y="80">is-a</text><text x="908" y="110">is-a</text>
</g>
</g>
<g id="t1" class="ty"><rect x="454" y="68" width="21" height="8"/><text x="464.5" y="74.2" textLength="18" lengthAdjust="spacingAndGlyphs">成果物</text></g>
<g id="t2" class="ty"><rect x="549" y="49" width="15" height="8"/><text x="556.5" y="55.2" textLength="12" lengthAdjust="spacingAndGlyphs">目的</text></g>
<g id="t3" class="ty"><rect x="580" y="34" width="30" height="8"/><text x="595" y="40.2" textLength="27" lengthAdjust="spacingAndGlyphs">議論目的</text></g>
<g id="t4" class="ty"><rect x="617" y="34" width="28" height="8"/><text x="631" y="40.2" textLength="25" lengthAdjust="spacingAndGlyphs">研究目的</text></g>
<g id="t5" class="ty"><rect x="653" y="34" width="29" height="8"/><text x="667.5" y="40.2" textLength="26" lengthAdjust="spacingAndGlyphs">学習目標</text></g>
<g id="t6" class="ty"><rect x="593" y="47" width="30" height="8"/><text x="608" y="53.2" textLength="27" lengthAdjust="spacingAndGlyphs">実践目的</text></g>
<g id="t7" class="ty"><rect x="593" y="73" width="17" height="8"/><text x="601.5" y="79.2" textLength="14" lengthAdjust="spacingAndGlyphs">問い</text></g>
<g id="t8" class="ty"><rect x="580" y="86" width="13" height="8"/><text x="586.5" y="92.2" textLength="10" lengthAdjust="spacingAndGlyphs">T/F</text></g>
<g id="t9" class="ty"><rect x="529" y="96" width="23" height="8"/><text x="540.5" y="102.2" textLength="20" lengthAdjust="spacingAndGlyphs">新規性</text></g>
<g id="t10" class="ty"><rect x="546" y="108" width="40" height="8"/><text x="566" y="114.2" textLength="37" lengthAdjust="spacingAndGlyphs">学習的新規性</text></g>
<g id="t11" class="ty"><rect x="649" y="102" width="34" height="8"/><text x="666" y="108.2" textLength="31" lengthAdjust="spacingAndGlyphs">環境的制約</text></g>
<g id="t12" class="ty"><rect x="662" y="57" width="16" height="8"/><text x="670" y="63.2" textLength="13" lengthAdjust="spacingAndGlyphs">観点</text></g>
<g id="t13" class="ty"><rect x="693" y="38" width="29" height="8"/><text x="707.5" y="44.2" textLength="26" lengthAdjust="spacingAndGlyphs">議論内容</text></g>
<g id="t14" class="ty"><rect x="693" y="55" width="35" height="8"/><text x="710.5" y="61.2" textLength="32" lengthAdjust="spacingAndGlyphs">教師の観点</text></g>
<g id="t15" class="ty"><rect x="699" y="70" width="41" height="8"/><text x="719.5" y="76.2" textLength="38" lengthAdjust="spacingAndGlyphs">学習者の観点</text></g>
<g id="t16" class="ty"><rect x="675" y="84" width="48" height="8"/><text x="699" y="90.2" textLength="45" lengthAdjust="spacingAndGlyphs">ユーザーの観点</text></g>
<g id="t17" class="ty"><rect x="749" y="43" width="17" height="8"/><text x="757.5" y="49.2" textLength="14" lengthAdjust="spacingAndGlyphs">問題</text></g>
<g id="t18" class="ty"><rect x="795" y="43" width="35" height="8"/><text x="812.5" y="49.2" textLength="32" lengthAdjust="spacingAndGlyphs">研究MT資料</text></g>
<g id="t19" class="ty"><rect x="753" y="58" width="15" height="8"/><text x="760.5" y="64.2" textLength="12" lengthAdjust="spacingAndGlyphs">課題</text></g>
<g id="t20" class="ty"><rect x="783" y="61" width="54" height="8"/><text x="810" y="67.2" textLength="51" lengthAdjust="spacingAndGlyphs">取り組むべき課題</text></g>
<g id="t21" class="ty"><rect x="740" y="81" width="17" height="8"/><text x="748.5" y="87.2" textLength="14" lengthAdjust="spacingAndGlyphs">条件</text></g>
<g id="t22" class="ty"><rect x="768" y="85" width="29" height="8"/><text x="782.5" y="91.2" textLength="26" lengthAdjust="spacingAndGlyphs">必要条件</text></g>
<g id="t23" class="ty"><rect x="769" y="102" width="28" height="8"/><text x="783" y="108.2" textLength="25" lengthAdjust="spacingAndGlyphs">十分条件</text></g>
<g id="t24" class="ty"><rect x="809" y="79" width="59" height="8"/><text x="838.5" y="85.2" textLength="56" lengthAdjust="spacingAndGlyphs">関連研究の位置づけ</text></g>
<g id="t25" class="ty"><rect x="882" y="79" width="35" height="8"/><text x="899.5" y="85.2" textLength="32" lengthAdjust="spacingAndGlyphs">アイディア</text><text class="pm" x="919" y="85">[+]</text></g>
<g id="t26" class="ty"><rect x="726" y="102" width="29" height="8"/><text x="740.5" y="108.2" textLength="26" lengthAdjust="spacingAndGlyphs">実践仮説</text></g>
<g id="t27" class="ty"><rect x="827" y="97" width="16" height="8"/><text x="835" y="103.2" textLength="13" lengthAdjust="spacingAndGlyphs">文献</text></g>
<g id="t28" class="ty"><rect x="867" y="98" width="16" height="8"/><text x="875" y="104.2" textLength="13" lengthAdjust="spacingAndGlyphs">論文</text></g>
<g id="t29" class="ty"><rect x="911" y="94" width="29" height="8"/><text x="925.5" y="100.2" textLength="26" lengthAdjust="spacingAndGlyphs">実践方法</text></g>
<g id="t30" class="ty"><rect x="876" y="113" width="15" height="8"/><text x="883.5" y="119.2" textLength="12" lengthAdjust="spacingAndGlyphs">手法</text></g>
<g id="t31" class="ty"><rect x="915" y="117" width="28" height="8"/><text x="929" y="123.2" textLength="25" lengthAdjust="spacingAndGlyphs">評価方法</text></g>
<g id="t32" class="ty"><rect x="832" y="129" width="28" height="8"/><text x="846" y="135.2" textLength="25" lengthAdjust="spacingAndGlyphs">システム</text></g>
</g>
</g>
<g id="frame-cognition">
<path fill="#70AD47" fill-rule="evenodd" d="M354 124H800V438H354ZM362 176V432H792V176Z"/>
<text class="tt" x="577" y="166" font-size="29">認知活動</text>
</g>
</svg>
